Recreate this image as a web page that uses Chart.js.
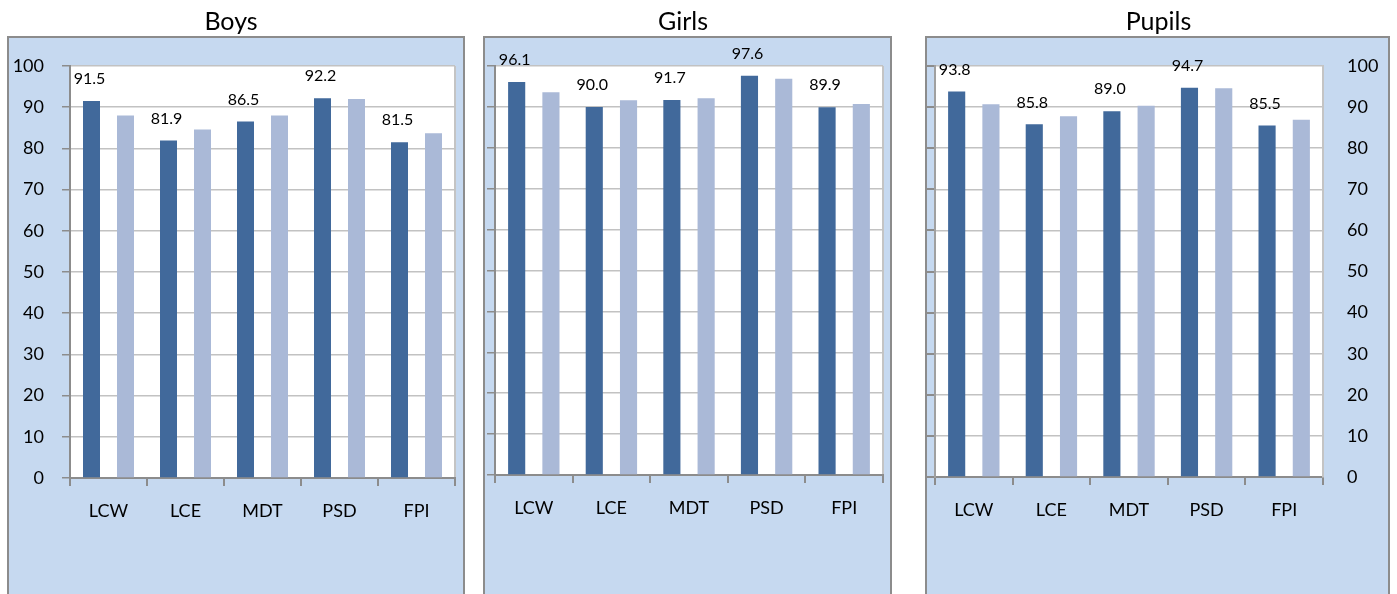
<!DOCTYPE html>
<html>
<head>
<meta charset="utf-8">
<title>Boys / Girls / Pupils</title>
<script src="https://cdn.jsdelivr.net/npm/chart.js@4.4.1/dist/chart.umd.min.js"></script>
<style>
    body { margin: 0; background: #fff; }
    #wrap { position: relative; width: 1397px; height: 594px; overflow: hidden; }
    canvas { position: absolute; top: 0; }
</style>
</head>
<body>
<div id="wrap">
    <canvas id="boysChart" width="463" height="594" style="left:7px"></canvas>
    <canvas id="girlsChart" width="437" height="594" style="left:483px"></canvas>
    <canvas id="pupilsChart" width="477" height="594" style="left:920px"></canvas>
</div>
<script>
const categories = ['LCW', 'LCE', 'MDT', 'PSD', 'FPI'];

// dark bars (labelled) and light comparison bars
const boysValues = [91.5, 81.9, 86.5, 92.2, 81.5];
const boysCompare = [88.0, 84.6, 88.0, 92.0, 83.7];
const girlsValues = [96.1, 90.0, 91.7, 97.6, 89.9];
const girlsCompare = [93.6, 91.6, 92.1, 96.9, 90.7];
const pupilsValues = [93.8, 85.8, 89.0, 94.7, 85.5];
const pupilsCompare = [90.7, 87.8, 90.3, 94.6, 86.9];

const yMin = 0;
const yMax = 100;
const yStep = 10;

Chart.defaults.font.family = 'Lato, "Liberation Sans", sans-serif';
Chart.defaults.color = '#000';

const panelPlugin = {
    id: 'panel',
    beforeDraw(chart, args, opts) {
        const c = chart.ctx;
        const a = chart.chartArea;
        c.save();
        c.fillStyle = '#c6d9f0';
        c.fillRect(opts.left, 37, opts.right - opts.left, 600);
        c.lineWidth = 2;
        c.strokeStyle = '#8c8c8c';
        c.strokeRect(opts.left, 37, opts.right - opts.left, 600);
        c.fillStyle = '#fff';
        c.fillRect(a.left, a.top, a.right - a.left, a.bottom - a.top);
        if (opts.edge) {
            c.strokeStyle = '#c4c4c4';
            c.beginPath();
            c.moveTo(a.right, a.top);
            c.lineTo(a.right, a.bottom);
            c.stroke();
        }
        c.restore();
    }
};

const valueLabels = {
    id: 'valueLabels',
    afterDatasetsDraw(chart) {
        const c = chart.ctx;
        const values = chart.data.datasets[0].data;
        c.save();
        c.font = '16px Lato, "Liberation Sans", sans-serif';
        c.fillStyle = '#000';
        c.textAlign = 'center';
        c.textBaseline = 'middle';
        chart.getDatasetMeta(0).data.forEach(function (bar, i) {
            c.fillText(values[i].toFixed(1), bar.x - 2, bar.y - 22);
        });
        c.restore();
    }
};

function makeChart(id, title, values, compare, cfg) {
    const scales = {
        x: {
            grid: { offset: true, drawOnChartArea: false, color: '#8c8c8c', lineWidth: 2, tickLength: 8 },
            border: { color: '#8c8c8c', width: 2 },
            ticks: { font: { size: 18 }, padding: 14 },
            afterFit: function (s) { s.height = cfg.bottom; }
        },
        y: {
            position: cfg.right ? 'right' : 'left',
            min: yMin,
            max: yMax,
            ticks: { stepSize: yStep, display: cfg.labels, font: { size: 18 }, padding: cfg.right ? 24 : 18 },
            grid: { color: '#c2c2c2', lineWidth: 1.5, tickColor: '#8c8c8c', tickLength: 8, drawTicks: !cfg.right },
            border: { color: cfg.right ? '#c4c4c4' : '#8c8c8c', width: 2 },
            afterFit: function (s) { s.width = cfg.yWidth; }
        }
    };
    if (cfg.right) {
        scales.y2 = {
            position: 'left',
            min: yMin,
            max: yMax,
            ticks: { stepSize: yStep, display: false },
            grid: { drawOnChartArea: false, color: '#8c8c8c', lineWidth: 2, tickLength: 8 },
            border: { color: '#a0a0a0', width: 2 },
            afterFit: function (s) { s.width = cfg.leftWidth; }
        };
    }

    const ctx = document.getElementById(id).getContext('2d');
    return new Chart(ctx, {
        type: 'bar',
        data: {
            labels: categories,
            datasets: [{
                data: values,
                backgroundColor: '#41699b',
                categoryPercentage: 0.883,
                barPercentage: 0.5
            }, {
                data: compare,
                backgroundColor: '#aab9d7',
                categoryPercentage: 0.883,
                barPercentage: 0.5
            }]
        },
        options: {
            responsive: false,
            animation: false,
            layout: { padding: { left: 0, right: cfg.padRight, top: 0, bottom: 0 } },
            plugins: {
                legend: { display: false },
                tooltip: { enabled: false },
                title: {
                    display: true,
                    text: title,
                    color: '#000',
                    font: { size: 25, weight: 'normal' },
                    padding: { top: 7, bottom: 29 }
                },
                panel: { left: cfg.panelLeft, right: cfg.panelRight, edge: !cfg.right }
            },
            scales: scales
        },
        plugins: [panelPlugin, valueLabels]
    });
}

makeChart('boysChart', 'Boys', boysValues, boysCompare, {
    labels: true, yWidth: 63, bottom: 116, padRight: 15, panelLeft: 1, panelRight: 457
});
makeChart('girlsChart', 'Girls', girlsValues, girlsCompare, {
    labels: false, yWidth: 12, bottom: 119, padRight: 37, panelLeft: 1, panelRight: 408
});
makeChart('pupilsChart', 'Pupils', pupilsValues, pupilsCompare, {
    labels: true, right: true, yWidth: 74, leftWidth: 15, bottom: 117, padRight: 0, panelLeft: 6, panelRight: 469
});
</script>
</body>
</html>
